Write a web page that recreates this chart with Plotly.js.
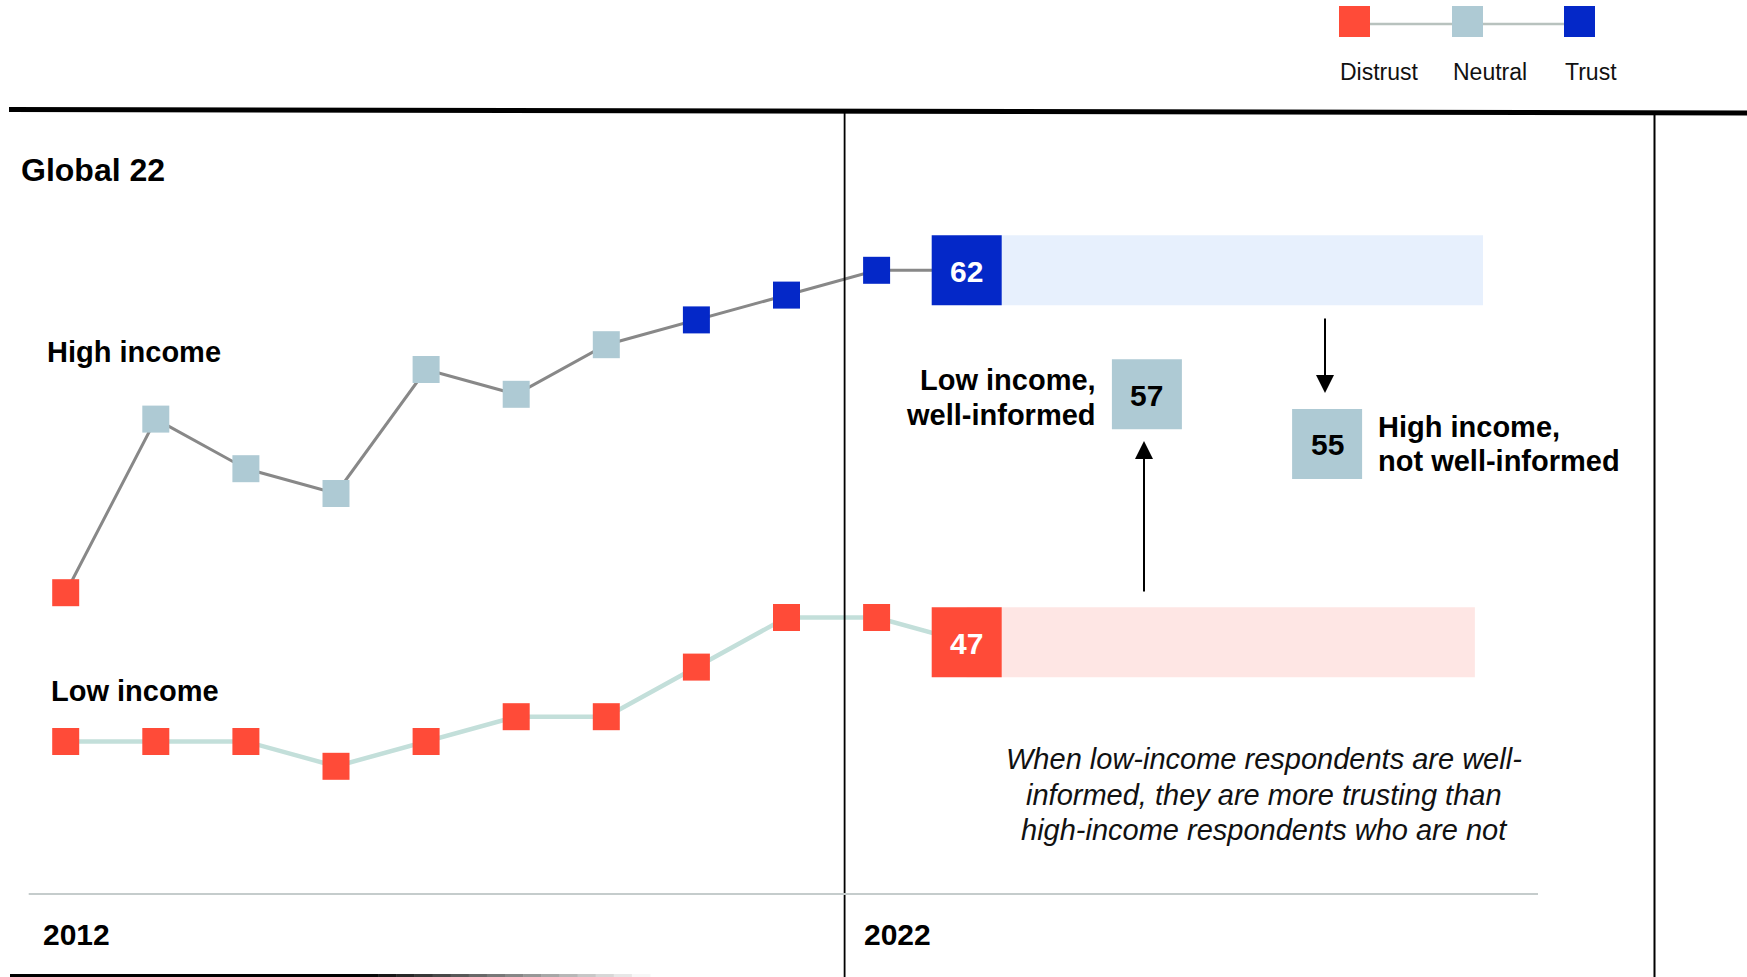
<!DOCTYPE html>
<html>
<head>
<meta charset="utf-8">
<script src="https://cdn.plot.ly/plotly-3.0.1.min.js"></script>
<style>
  html, body { margin: 0; padding: 0; background: #ffffff; }
  #chart { width: 1747px; height: 977px; }
</style>
</head>
<body>
<div id="chart"></div>
<script>
// ---------------- data ----------------
const years = [2012, 2013, 2014, 2015, 2016, 2017, 2018, 2019, 2020, 2021, 2022];
const highIncome = [49, 56, 54, 53, 58, 57, 59, 60, 61, 62, 62];
const lowIncome  = [43, 43, 43, 42, 43, 44, 44, 46, 48, 48, 47];
const seriesLabels = ['High income', 'Low income'];
const comparisonLabels = [['Low income,', 'well-informed'], ['High income,', 'not well-informed']];
const comparisonValues = [57, 55];
const legendLabels = ['Distrust', 'Neutral', 'Trust'];
const regionLabel = 'Global 22';
const yearLabels = ['2012', '2022'];
const noteLines = [
  'When low-income respondents are well-',
  'informed, they are more trusting than',
  'high-income respondents who are not'
];

// ---------------- styles / layout constants ----------------
const W = 1747, H = 977;
const FONT = 'Liberation Sans, Arial, Helvetica, sans-serif';
const COLORS = { Distrust: '#FF4B38', Neutral: '#AECAD4', Trust: '#0428C8' };
const bucket = v => (v >= 60 ? 'Trust' : (v >= 50 ? 'Neutral' : 'Distrust'));
const colorOf = v => COLORS[bucket(v)];

// pixel mapping of the axes
const X0PX = 65.7, XSTEP = 90.1;       // 2012 at 65.7px, 90.1px per year
const Y62PX = 270.3, YSTEP = 24.8;     // value 62 at 270.3px, 24.8px per point
const xRange = [years[0] - X0PX / XSTEP, years[0] + (W - X0PX) / XSTEP];
const yRange = [62 - (H - Y62PX) / YSTEP, 62 + Y62PX / YSTEP];

const SMALL = 27, BIG = 70;
const compX = [2024, 2026];                 // positions of comparison boxes
const bandEnd = [2027.73, 2027.64];         // decorative band right ends
const bandWidth = BIG / YSTEP;

const px = x => x / W;
const py = y => 1 - y / H;

const lastIdx = years.length - 1;
function sizes(arr) { return arr.map((v, i) => (i === lastIdx ? BIG : SMALL)); }

const traces = [
  {
    type: 'bar', orientation: 'h',
    y: [highIncome[lastIdx], lowIncome[lastIdx]],
    base: [years[lastIdx], years[lastIdx]],
    x: [bandEnd[0] - years[lastIdx], bandEnd[1] - years[lastIdx]],
    width: bandWidth,
    marker: { color: ['#E7F0FD', '#FEE6E4'], line: { width: 0 }, opacity: 1 },
    hoverinfo: 'skip', showlegend: false
  },
  {
    type: 'scatter', mode: 'lines+markers', name: seriesLabels[1],
    x: years, y: lowIncome,
    line: { color: '#C3DFDA', width: 4.5 },
    marker: { symbol: 'square', size: sizes(lowIncome), color: lowIncome.map(colorOf), opacity: 1, line: { width: 0 } },
    hoverinfo: 'skip', cliponaxis: false
  },
  {
    type: 'scatter', mode: 'lines+markers', name: seriesLabels[0],
    x: years, y: highIncome,
    line: { color: '#888888', width: 3 },
    marker: { symbol: 'square', size: sizes(highIncome), color: highIncome.map(colorOf), opacity: 1, line: { width: 0 } },
    hoverinfo: 'skip', cliponaxis: false
  },
  {
    type: 'scatter', mode: 'markers',
    x: compX, y: comparisonValues,
    marker: { symbol: 'square', size: BIG, color: comparisonValues.map(colorOf), opacity: 1, line: { width: 0 } },
    hoverinfo: 'skip', cliponaxis: false
  }
];

// ---------------- shapes ----------------
const shapes = [];
function pline(x0, y0, x1, y1, color, width) {
  shapes.push({ type: 'line', xref: 'paper', yref: 'paper', x0: px(x0), y0: py(y0), x1: px(x1), y1: py(y1),
    line: { color: color, width: width } });
}
// top thick rule
pline(9, 109.5, W, 113, '#000000', 5);
// vertical separators
pline(844.6, 112, 844.6, H, '#000000', 1.8);
pline(1654.5, 114, 1654.5, H, '#000000', 2);
// grey baseline
pline(28.7, 894, 1538, 894, '#C5CCCC', 2);
// bottom fading rule
pline(10, 975.5, 360, 975.5, '#000000', 3);
(function () {
  const n = 16, xa = 360, xb = 650;
  for (let i = 0; i < n; i++) {
    const t = (i + 0.5) / n;
    const c = Math.round(255 * t);
    pline(xa + (xb - xa) * i / n, 975.5, xa + (xb - xa) * (i + 1) / n + 0.5, 975.5, `rgb(${c},${c},${c})`, 3);
  }
})();
// legend
const legendLeft = [1339, 1452, 1564];
pline(1370, 24, 1564, 24, '#B8C2BE', 2.5);
legendLabels.forEach((lab, i) => {
  shapes.push({ type: 'rect', xref: 'paper', yref: 'paper',
    x0: px(legendLeft[i]), x1: px(legendLeft[i] + 31), y0: py(6), y1: py(37),
    fillcolor: COLORS[lab], line: { width: 0 } });
});

// ---------------- annotations ----------------
const annotations = [];
function label(text, x, y, opts) {
  annotations.push(Object.assign({
    xref: 'paper', yref: 'paper', x: px(x), y: py(y), text: text, showarrow: false,
    xanchor: 'left', yanchor: 'middle',
    font: { family: FONT, size: 29, color: '#000000', weight: 'bold' }
  }, opts || {}));
}
label(regionLabel, 19, 170, { font: { family: FONT, size: 32, color: '#000000', weight: 'bold' } });
label(seriesLabels[0], 45, 352);
label(seriesLabels[1], 49, 691);
label(yearLabels[0], 41, 934, { font: { family: FONT, size: 30, color: '#000000', weight: 'bold' } });
label(yearLabels[1], 862, 934, { font: { family: FONT, size: 30, color: '#000000', weight: 'bold' } });
label(comparisonLabels[0][0], 1098, 380, { xanchor: 'right' });
label(comparisonLabels[0][1], 1098, 415, { xanchor: 'right' });
label(comparisonLabels[1][0], 1376, 427);
label(comparisonLabels[1][1], 1376, 461);
noteLines.forEach((t, i) => {
  label(t, 1264, 759 + 35.5 * i, { xanchor: 'center',
    font: { family: FONT, size: 29, color: '#111111', style: 'italic' } });
});
legendLabels.forEach((lab, i) => {
  label(lab, legendLeft[i] - 1, 71.5, { font: { family: FONT, size: 23, color: '#111111' } });
});

// values inside the big boxes (data coordinates)
function boxValue(x, v, color) {
  annotations.push({ xref: 'x', yref: 'y', x: x, y: v, text: String(v), showarrow: false,
    xanchor: 'center', yanchor: 'middle', yshift: -1,
    font: { family: FONT, size: 30, color: color, weight: 'bold' } });
}
boxValue(years[lastIdx], highIncome[lastIdx], '#FFFFFF');
boxValue(years[lastIdx], lowIncome[lastIdx], '#FFFFFF');
comparisonValues.forEach((v, i) => boxValue(compX[i], v, '#000000'));

// arrows
annotations.push({ xref: 'paper', yref: 'paper', x: px(1325), y: py(393), ax: 0, ay: -76, text: '',
  showarrow: true, arrowhead: 2, arrowsize: 1.8, arrowwidth: 2, arrowcolor: '#000000', standoff: 0 });
annotations.push({ xref: 'paper', yref: 'paper', x: px(1144), y: py(441), ax: 0, ay: 152, text: '',
  showarrow: true, arrowhead: 2, arrowsize: 1.8, arrowwidth: 2, arrowcolor: '#000000', standoff: 0 });

const layout = {
  width: W, height: H,
  margin: { l: 0, r: 0, t: 0, b: 0, pad: 0 },
  paper_bgcolor: '#FFFFFF', plot_bgcolor: '#FFFFFF',
  showlegend: false,
  barmode: 'overlay',
  xaxis: { range: xRange, visible: false, fixedrange: true, showgrid: false, zeroline: false },
  yaxis: { range: yRange, visible: false, fixedrange: true, showgrid: false, zeroline: false },
  shapes: shapes,
  annotations: annotations,
  font: { family: FONT }
};

Plotly.newPlot('chart', traces, layout, { displayModeBar: false, staticPlot: true });
</script>
</body>
</html>
